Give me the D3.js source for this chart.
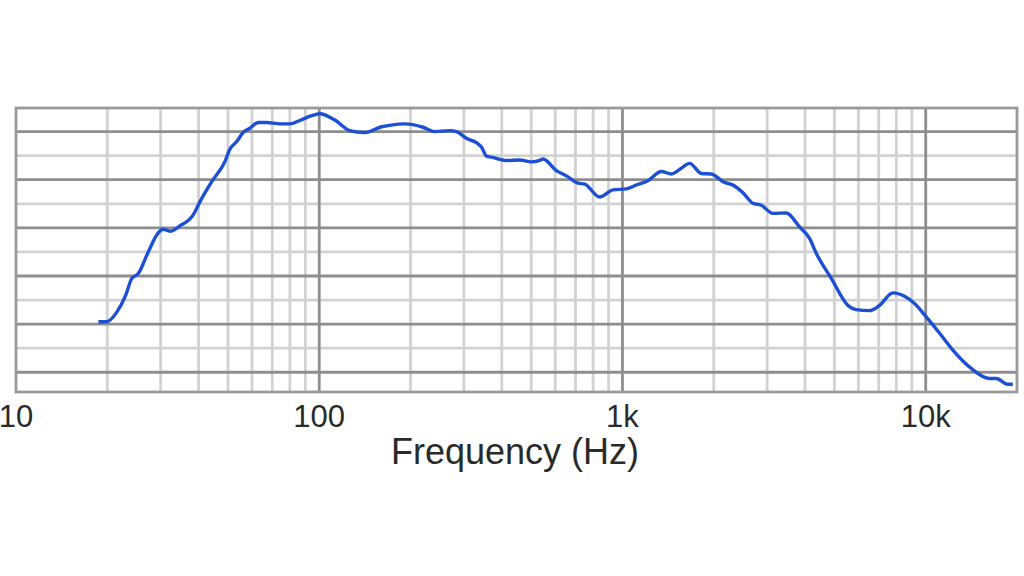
<!DOCTYPE html>
<html>
<head>
<meta charset="utf-8">
<script src="https://cdn.jsdelivr.net/npm/d3@7"></script>
<style>
  body { margin: 0; background: #fff; }
  text { font-family: "Liberation Sans", Arial, Helvetica, sans-serif; fill: #2a2a2a; }
</style>
</head>
<body>
<svg id="chart" width="1024" height="576"></svg>
<script>
// frequency response (Hz / dB)
var freqs = [18.7, 19.9, 21.5, 22.9, 24.1, 25.3, 27.3, 29.4, 30.6, 32.2, 34.7, 38.4, 40.4, 44.2, 48.9,
    50.7, 53.4, 56.1, 59.1, 62.9, 67.1, 74.2, 80, 86.3, 94.3, 100.5, 112.6, 126.1, 141.3, 160.5,
    170.9, 191.4, 220, 240.4, 269.4, 283.5, 305.8, 329.9, 342.7, 355.9, 369.7, 414.2, 458.3, 500.8,
    533.4, 547, 605.5, 653.4, 713.5, 750.7, 841.1, 930.5, 1030, 1111, 1213, 1343, 1450, 1564, 1665,
    1820, 1963, 2145, 2343, 2496, 2693, 2870, 3133, 3469, 3837, 4140, 4356, 4882, 5537, 5902, 6528,
    7043, 7791, 8512, 9186, 10040, 11250, 12290, 14130, 16230, 17080, 18650, 19370];
var levels = [60.5, 60.5, 62.5, 65.7, 69.5, 70.5, 75.0, 78.9, 79.7, 79.3, 80.4, 82.7, 85.4, 89.6, 93.8,
    96.3, 97.9, 99.8, 100.7, 101.9, 101.9, 101.6, 101.6, 102.3, 103.3, 103.7, 102.4, 100.2, 99.8, 101.0,
    101.3, 101.6, 100.9, 100.0, 100.2, 100.0, 98.6, 97.7, 96.8, 94.9, 94.7, 94.0, 94.1, 93.7,
    94.0, 94.3, 91.9, 90.8, 89.3, 89.1, 86.4, 87.9, 88.1, 88.9, 89.8, 91.7, 91.2, 92.4, 93.4,
    91.3, 91.2, 89.6, 88.7, 87.3, 85.1, 84.7, 83.0, 83.1, 80.2, 77.8, 74.7, 69.5, 63.9, 63.0, 62.8,
    63.9, 66.5, 65.8, 64.3, 61.5, 57.7, 54.6, 50.8, 48.7, 48.7, 47.5, 47.5];

var majorFreqs = [100, 1000, 10000];
var tickFreqs = [10, 100, 1000, 10000];
var tickLabels = ["10", "100", "1k", "10k"];
var majorLevels = [50, 60, 70, 80, 90, 100];
var minorLevels = [55, 65, 75, 85, 95];

// plot box (note: "top" is taken by window.top, so use other names)
var x0 = 16, x1 = 1017, y0 = 108, y1 = 392;

var svg = d3.select("#chart");

var x = d3.scaleLog().domain([10, 20000]).range([x0, x1]);
var y = d3.scaleLinear().domain([45.9, 104.9]).range([y1, y0]);

// minor vertical lines: 2..9 in every decade
var minorFreqs = [];
[10, 100, 1000].forEach(d => {
    for (var k = 2; k <= 9; k++) if (d * k < 20000) minorFreqs.push(d * k);
});

var grid = svg.append("g");

grid.selectAll(".vmin").data(minorFreqs).enter().append("line")
    .attr("x1", d => x(d)).attr("x2", d => x(d))
    .attr("y1", y0).attr("y2", y1)
    .attr("stroke", "#d2d2d2").attr("stroke-width", 2.8);

grid.selectAll(".hmin").data(minorLevels).enter().append("line")
    .attr("x1", x0).attr("x2", x1)
    .attr("y1", d => y(d)).attr("y2", d => y(d))
    .attr("stroke", "#d2d2d2").attr("stroke-width", 2.8);

grid.selectAll(".hmaj").data(majorLevels).enter().append("line")
    .attr("x1", x0).attr("x2", x1)
    .attr("y1", d => y(d)).attr("y2", d => y(d))
    .attr("stroke", "#8e8e8e").attr("stroke-width", 2.8);

grid.selectAll(".vmaj").data(majorFreqs).enter().append("line")
    .attr("x1", d => x(d)).attr("x2", d => x(d))
    .attr("y1", y0).attr("y2", y1)
    .attr("stroke", "#8e8e8e").attr("stroke-width", 2.8);

// frame
grid.append("rect")
    .attr("x", x0).attr("y", y0)
    .attr("width", x1 - x0).attr("height", y1 - y0)
    .attr("fill", "none").attr("stroke", "#9a9a9a").attr("stroke-width", 2.8);

// response curve
var line = d3.line()
    .x((d, i) => x(freqs[i]))
    .y(d => y(d))
    .curve(d3.curveMonotoneX);

svg.append("path")
    .datum(levels)
    .attr("d", line)
    .attr("fill", "none")
    .attr("stroke", "#1c4fd3")
    .attr("stroke-width", 3.4)
    .attr("stroke-linejoin", "round");

// tick labels
svg.selectAll(".tick").data(tickFreqs).enter().append("text")
    .attr("x", d => x(d))
    .attr("y", 427)
    .attr("text-anchor", "middle")
    .style("font-size", "31px")
    .text((d, i) => tickLabels[i]);

svg.append("text")
    .attr("x", 515)
    .attr("y", 464)
    .attr("text-anchor", "middle")
    .style("font-size", "36px")
    .text("Frequency (Hz)");
</script>
</body>
</html>
